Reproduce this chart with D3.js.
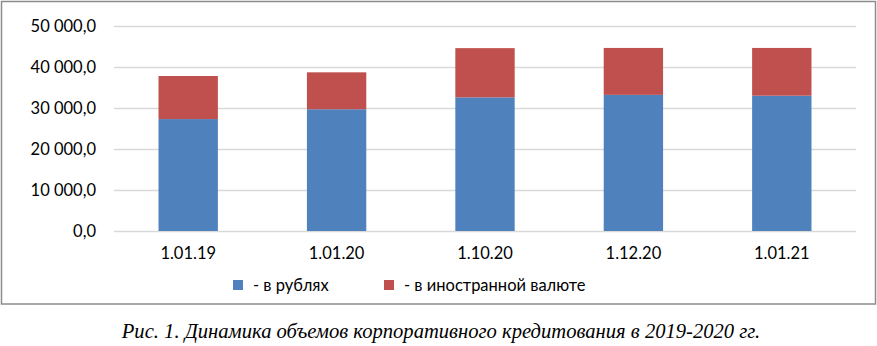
<!DOCTYPE html>
<html><head><meta charset="utf-8">
<script src="https://cdn.jsdelivr.net/npm/d3@7"></script>
<style>
html,body{margin:0;padding:0;background:#fff;}
svg{display:block;}
</style>
</head><body>
<svg id="chart" width="877" height="346"></svg>
<script>
const categories = ["1.01.19", "1.01.20", "1.10.20", "1.12.20", "1.01.21"];
const rubles = [27300, 29700, 32600, 33200, 33000];
const foreign = [10500, 9000, 12000, 11450, 11650];
const seriesNames = ["- в рублях", "- в иностранной валюте"];
const colors = ["#4F81BD", "#C0504D"];
const yTicks = [0, 10000, 20000, 30000, 40000, 50000];
const caption = "Рис. 1. Динамика объемов корпоративного кредитования в 2019-2020 гг.";

const svg = d3.select("#chart");
const plot = {left: 114, right: 856, top: 26, bottom: 231};
const font = "Lato, 'Open Sans', sans-serif";

// frame
svg.append("rect").attr("x", 1.5).attr("y", 1.5).attr("width", 874).attr("height", 302.5)
  .attr("fill", "#fff").attr("stroke", "#8c8c8c").attr("stroke-width", 1.5);

const x = d3.scaleBand().domain(categories).range([plot.left, plot.right]).paddingInner(0.6).paddingOuter(0.3);
const y = d3.scaleLinear().domain([0, 50000]).range([plot.bottom, plot.top]);

const fmt = v => d3.format(",.1f")(v).replace(/,/g, " ").replace(".", ",");

// grid
const gy = svg.append("g").attr("transform", `translate(${plot.left},0)`)
  .call(d3.axisLeft(y).tickValues(yTicks).tickSize(-(plot.right - plot.left)).tickFormat(fmt).tickPadding(18));
gy.select(".domain").remove();
gy.selectAll(".tick line").attr("stroke", "#d9d9d9").attr("stroke-width", 1.3);
gy.selectAll(".tick text").attr("font-family", font).attr("font-size", 16.5).attr("fill", "#000");

// stacked data
const data = categories.map((c, i) => ({cat: c, r: rubles[i], f: foreign[i]}));
const stack = d3.stack().keys(["r", "f"])(data);
svg.append("g").selectAll("g").data(stack).join("g").attr("fill", (d, i) => colors[i])
  .selectAll("rect").data(d => d).join("rect")
  .attr("x", d => x(d.data.cat)).attr("width", x.bandwidth())
  .attr("y", d => y(d[1])).attr("height", d => y(d[0]) - y(d[1]));

// x axis labels
const gx = svg.append("g").attr("transform", `translate(0,${plot.bottom})`)
  .call(d3.axisBottom(x).tickSize(0).tickPadding(16));
gx.select(".domain").remove();
gx.selectAll(".tick text").attr("font-family", font).attr("font-size", 16.5).attr("fill", "#000");

// legend
const legendX = [233, 384];
const lg = svg.append("g");
seriesNames.forEach((n, i) => {
  lg.append("rect").attr("x", legendX[i]).attr("y", 280).attr("width", 10).attr("height", 10).attr("fill", colors[i]);
  lg.append("text").attr("x", legendX[i] + 20).attr("y", 290.5).attr("font-family", font).attr("font-size", 16.5)
    .attr("fill", "#000").text(n);
});

// caption
svg.append("text").attr("x", 441).attr("y", 338).attr("text-anchor", "middle")
  .attr("font-family", "'Liberation Serif', 'Times New Roman', serif").attr("font-style", "italic")
  .attr("font-size", 20.6).attr("fill", "#000").text(caption);
</script>
</body></html>
